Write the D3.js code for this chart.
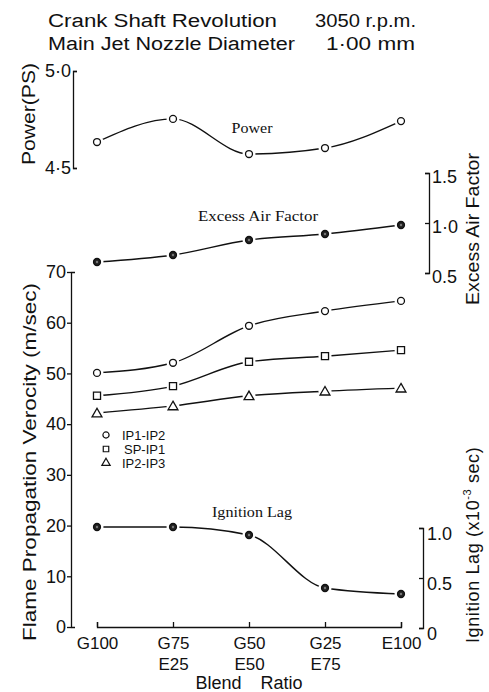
<!DOCTYPE html>
<html>
<head>
<meta charset="utf-8">
<script src="https://cdn.jsdelivr.net/npm/d3@7"></script>
<style>
	body { margin: 0; background: #fff; }
	svg { display: block; }
	text { font-family: "Liberation Sans", "DejaVu Sans", sans-serif; fill: #111; }
	.serif { font-family: "Liberation Serif", "DejaVu Serif", serif; }
</style>
</head>
<body>
<svg class="chart" width="489" height="692"></svg>
<script>
////////////////////////////////////////////////////////////
//// Data //////////////////////////////////////////////////
////////////////////////////////////////////////////////////
const categories = ["G100", "G75/E25", "G50/E50", "G25/E75", "E100"];
const catTop = ["G100", "G75", "G50", "G25", "E100"];
const catBottom = ["", "E25", "E50", "E75", ""];

const power = [4.634, 4.753, 4.572, 4.603, 4.742];
const excessAir = [0.61, 0.68, 0.83, 0.89, 0.98];
const ip1ip2 = [50.1, 52.1, 59.4, 62.3, 64.3];
const spip1 = [45.6, 47.5, 52.3, 53.4, 54.6];
const ip2ip3 = [42.2, 43.6, 45.6, 46.5, 47.1];
const ignitionLag = [1.01, 1.01, 0.93, 0.40, 0.34];

const flameTicks = [0, 10, 20, 30, 40, 50, 60, 70];
const powerTicks = [4.5, 5.0];
const powerTickLabels = ["4·5", "5·0"];
const airTicks = [0.5, 1.0, 1.5];
const airTickLabels = ["0.5", "1·0", "1.5"];
const lagTicks = [0, 0.5, 1.0];
const lagTickLabels = ["0", "0.5", "1.0"];

const legendItems = ["IP1-IP2", "SP-IP1", "IP2-IP3"];
const legendMarkers = ["circle", "square", "triangle"];

////////////////////////////////////////////////////////////
//// Setup /////////////////////////////////////////////////
////////////////////////////////////////////////////////////
const svg = d3.select(".chart");

const x = d3.scalePoint().domain(categories).range([97, 401]);
const yFlame = d3.scaleLinear().domain([0, 70]).range([627, 272]);
const yPower = d3.scaleLinear().domain([4.5, 5.0]).range([168, 71]);
const yAir = d3.scaleLinear().domain([0.5, 1.5]).range([273, 173]);
const yLag = d3.scaleLinear().domain([0, 1]).range([628, 528]);

const fs = 18;

// Header
const header = svg.append("g").attr("font-size", 18);
header.append("text").attr("x", 48).attr("y", 27)
	.attr("textLength", 229).attr("lengthAdjust", "spacingAndGlyphs")
	.text("Crank Shaft Revolution");
header.append("text").attr("x", 315).attr("y", 27)
	.attr("textLength", 101).attr("lengthAdjust", "spacingAndGlyphs")
	.text("3050 r.p.m.");
header.append("text").attr("x", 48).attr("y", 50)
	.attr("textLength", 247).attr("lengthAdjust", "spacingAndGlyphs")
	.text("Main Jet Nozzle Diameter");
header.append("text").attr("x", 326).attr("y", 50)
	.attr("textLength", 89).attr("lengthAdjust", "spacingAndGlyphs")
	.text("1·00  mm");

////////////////////////////////////////////////////////////
//// Axes //////////////////////////////////////////////////
////////////////////////////////////////////////////////////
function styleAxis(g) {
	g.selectAll("path, line").attr("stroke", "#111").attr("stroke-width", 1.3);
	g.selectAll("text").attr("font-size", fs).attr("font-family", null).attr("fill", "#111");
}

// Main flame velocity axis
svg.append("g")
	.attr("transform", "translate(71,0)")
	.call(d3.axisLeft(yFlame).tickValues(flameTicks).tickSizeInner(4).tickSizeOuter(-4).tickPadding(1))
	.call(styleAxis);

// Power axis
svg.append("g")
	.attr("transform", "translate(73,0)")
	.call(d3.axisLeft(yPower).tickValues(powerTicks).tickSizeInner(-4).tickSizeOuter(-4).tickPadding(2)
		.tickFormat((d, i) => powerTickLabels[i]))
	.call(styleAxis);

// Excess air factor axis
svg.append("g")
	.attr("transform", "translate(429,0)")
	.call(d3.axisRight(yAir).tickValues(airTicks).tickSizeInner(-4).tickSizeOuter(-4).tickPadding(3)
		.tickFormat((d, i) => airTickLabels[i]))
	.call(styleAxis)
	.call(g => g.selectAll("text").attr("dy", "0.55em"));

// Ignition lag axis
svg.append("g")
	.attr("transform", "translate(423,0)")
	.call(d3.axisRight(yLag).tickValues(lagTicks).tickSizeInner(-4).tickSizeOuter(-4).tickPadding(4)
		.tickFormat((d, i) => lagTickLabels[i]))
	.call(styleAxis)
	.call(g => g.selectAll("text").attr("dy", "0.65em"));

// Blend ratio axis
const xAxis = svg.append("g")
	.attr("transform", "translate(0,627)")
	.call(d3.axisBottom(x).tickSizeInner(-5).tickSizeOuter(-5).tickPadding(10)
		.tickFormat((d, i) => catTop[i]))
	.call(styleAxis)
	.call(g => g.selectAll("text").attr("font-size", 17));
xAxis.selectAll(".tick").append("text")
	.attr("y", 31).attr("dy", "0.71em")
	.attr("fill", "#111").attr("font-size", 17)
	.text((d, i) => catBottom[i]);

// Axis titles
svg.append("text")
	.attr("transform", "translate(35,165) rotate(-90)")
	.attr("font-size", 18)
	.attr("textLength", 102).attr("lengthAdjust", "spacingAndGlyphs")
	.text("Power(PS)");

svg.append("text")
	.attr("transform", "translate(36,641) rotate(-90)")
	.attr("font-size", 18)
	.attr("textLength", 358).attr("lengthAdjust", "spacingAndGlyphs")
	.text("Flame Propagation Verocity (m/sec)");

svg.append("text")
	.attr("transform", "translate(479,305) rotate(-90)")
	.attr("font-size", 18)
	.attr("textLength", 152).attr("lengthAdjust", "spacingAndGlyphs")
	.text("Excess Air Factor");

const lagTitle = svg.append("text")
	.attr("transform", "translate(479,643) rotate(-90)")
	.attr("font-size", 18)
	.attr("letter-spacing", 0.6);
lagTitle.append("tspan").text("Ignition  Lag (x10");
lagTitle.append("tspan").attr("font-size", 11).attr("dy", -8).text("-3");
lagTitle.append("tspan").attr("dy", 8).text(" sec)");

svg.append("text")
	.attr("x", 249).attr("y", 689)
	.attr("text-anchor", "middle")
	.attr("font-size", 18)
	.attr("word-spacing", 14)
	.text("Blend Ratio");

////////////////////////////////////////////////////////////
//// Series ////////////////////////////////////////////////
////////////////////////////////////////////////////////////
const series = [
	{ values: power, y: yPower, marker: "circle", filled: false },
	{ values: excessAir, y: yAir, marker: "circle", filled: true },
	{ values: ip1ip2, y: yFlame, marker: "circle", filled: false },
	{ values: spip1, y: yFlame, marker: "square", filled: false },
	{ values: ip2ip3, y: yFlame, marker: "triangle", filled: false },
	{ values: ignitionLag, y: yLag, marker: "circle", filled: true }
];

const symbolTypes = {
	circle: d3.symbolCircle,
	square: d3.symbolSquare,
	triangle: d3.symbolTriangle
};
const symbolSizes = { circle: 38, square: 50, triangle: 42 };

const gLines = svg.append("g")
	.attr("fill", "none")
	.attr("stroke", "#111")
	.attr("stroke-width", 1.4);

const gMarks = svg.append("g");

series.forEach(s => {
	const line = d3.line()
		.x((d, i) => x(categories[i]))
		.y(d => s.y(d))
		.curve(d3.curveMonotoneX);

	gLines.append("path").attr("d", line(s.values));

	const pts = gMarks.append("g")
		.selectAll("g")
		.data(s.values)
		.join("g")
		.attr("transform", (d, i) => `translate(${x(categories[i])},${s.y(d)})`);

	// white halo to leave a gap between line and marker
	pts.append("circle").attr("r", 6.5).attr("fill", "#fff");

	pts.append("path")
		.attr("d", d3.symbol().type(symbolTypes[s.marker]).size(symbolSizes[s.marker])())
		.attr("transform", s.marker === "triangle" ? "translate(0,1)" : null)
		.attr("fill", s.filled ? "#222" : "#fff")
		.attr("stroke", "#111")
		.attr("stroke-width", 1.3);

	if (s.filled) {
		pts.append("circle").attr("r", 1.2).attr("fill", "#777");
	}
});

// Series labels
svg.append("text").attr("class", "serif")
	.attr("x", 252).attr("y", 133).attr("text-anchor", "middle")
	.attr("font-size", 14)
	.attr("textLength", 41).attr("lengthAdjust", "spacingAndGlyphs")
	.text("Power");

svg.append("text").attr("class", "serif")
	.attr("x", 258).attr("y", 221).attr("text-anchor", "middle")
	.attr("font-size", 14)
	.attr("textLength", 120).attr("lengthAdjust", "spacingAndGlyphs")
	.text("Excess Air Factor");

svg.append("text").attr("class", "serif")
	.attr("x", 252).attr("y", 517).attr("text-anchor", "middle")
	.attr("font-size", 14)
	.attr("textLength", 80).attr("lengthAdjust", "spacingAndGlyphs")
	.text("Ignition Lag");

////////////////////////////////////////////////////////////
//// Legend ////////////////////////////////////////////////
////////////////////////////////////////////////////////////
const legend = svg.append("g")
	.selectAll("g")
	.data(legendItems)
	.join("g")
	.attr("transform", (d, i) => `translate(106,${435 + i * 14})`);

legend.append("path")
	.attr("d", (d, i) => d3.symbol().type(symbolTypes[legendMarkers[i]]).size(30)())
	.attr("fill", "#fff")
	.attr("stroke", "#111")
	.attr("stroke-width", 1.2);

legend.append("text")
	.attr("x", (d, i) => i === 1 ? 18 : 16)
	.attr("dy", "0.36em")
	.attr("font-size", 13)
	.text(d => d);
</script>
</body>
</html>
